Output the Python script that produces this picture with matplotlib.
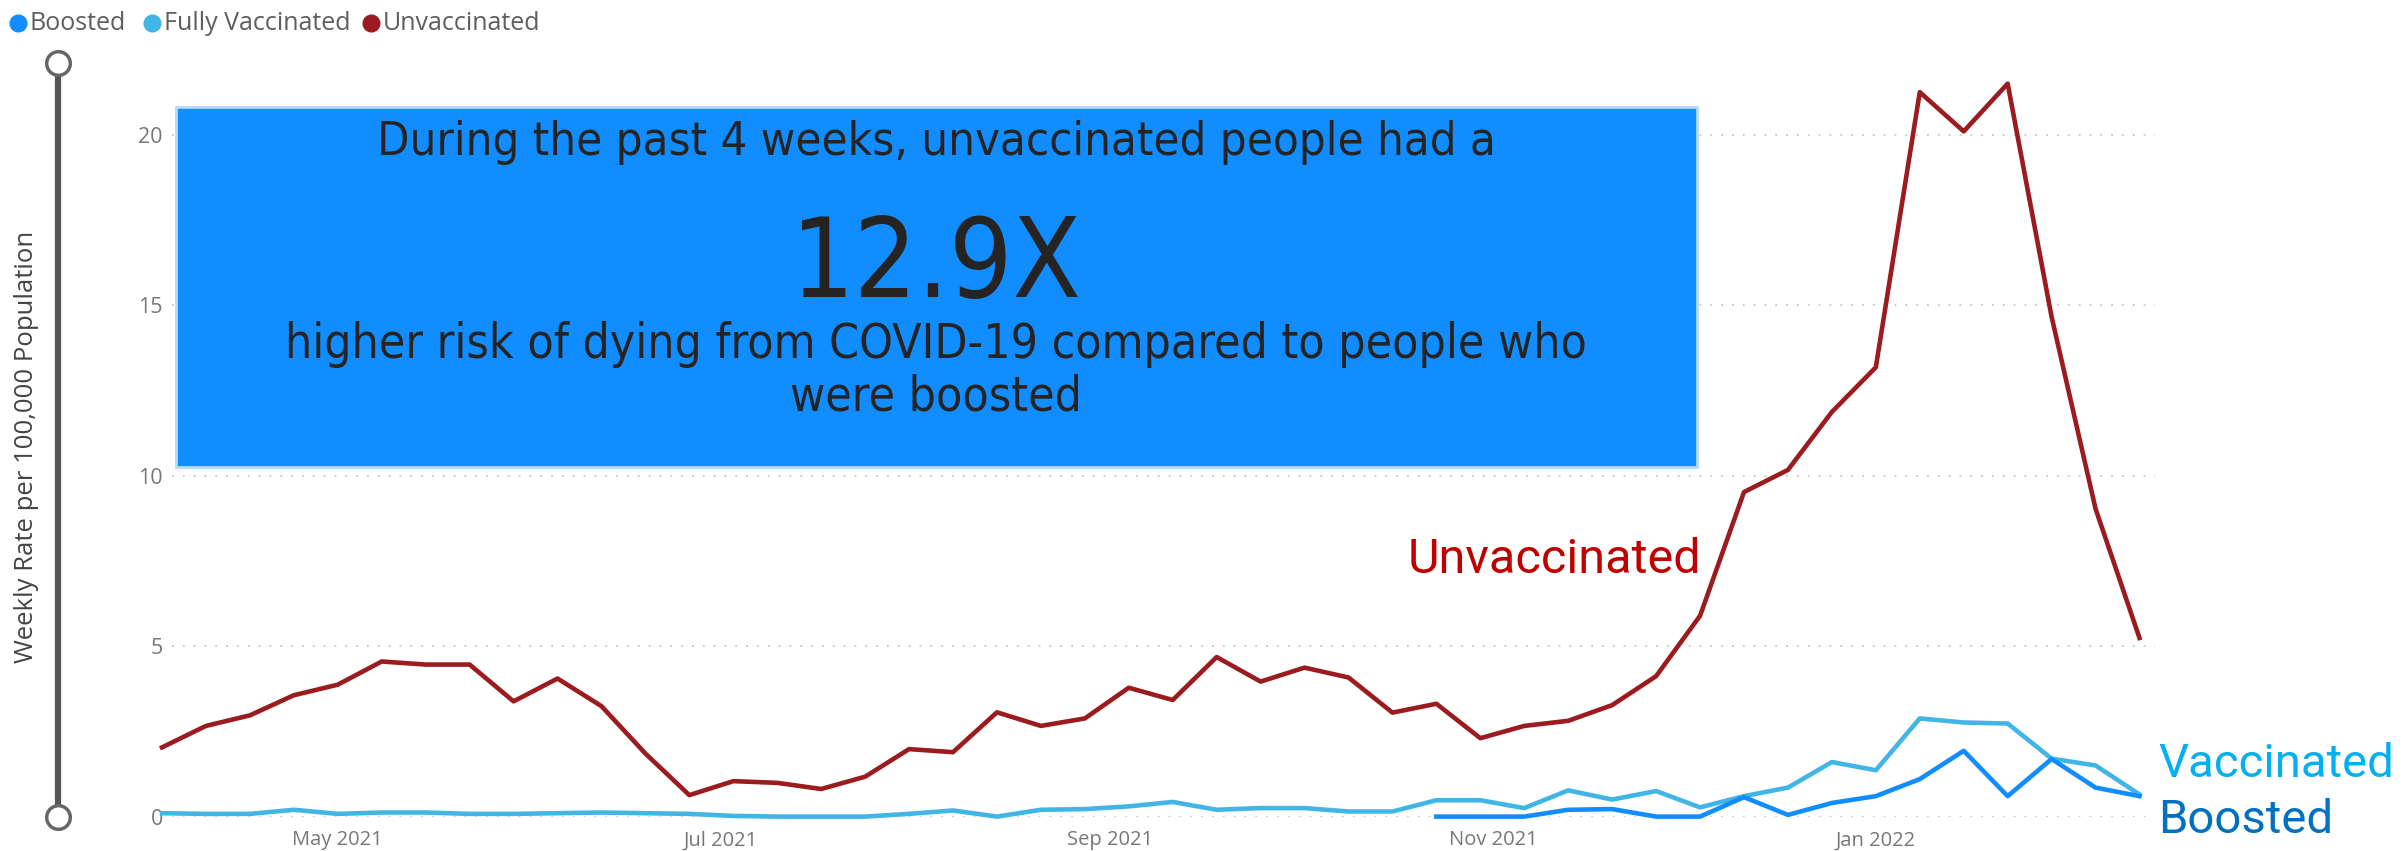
import pandas as pd
import matplotlib
matplotlib.use('Agg')
import matplotlib.pyplot as plt
import matplotlib.dates as mdates
from matplotlib.patches import Rectangle
from matplotlib.lines import Line2D

W, H = 2402, 851

# weekly rates per 100,000 population
weeks = pd.date_range('2021-04-03', periods=46, freq='7D')
unvaccinated = [2.03, 2.66, 2.97, 3.56, 3.87, 4.55, 4.46, 4.46, 3.38, 4.05,
                3.24, 1.85, 0.63, 1.04, 0.99, 0.81, 1.17, 1.98, 1.89, 3.06,
                2.66, 2.88, 3.78, 3.42, 4.68, 3.96, 4.37, 4.08, 3.05, 3.31,
                2.30, 2.66, 2.81, 3.27, 4.12, 5.89, 9.52, 10.17, 11.87, 13.18,
                21.25, 20.1, 21.5, 14.66, 9.03, 5.24]
fully_vaccinated = [0.10, 0.08, 0.08, 0.20, 0.08, 0.12, 0.12, 0.08, 0.08, 0.10,
                    0.12, 0.10, 0.08, 0.02, 0.0, 0.0, 0.0, 0.08, 0.18, 0.0,
                    0.20, 0.22, 0.30, 0.43, 0.20, 0.25, 0.25, 0.15, 0.15, 0.48,
                    0.48, 0.25, 0.77, 0.50, 0.75, 0.27, 0.60, 0.85, 1.60, 1.36,
                    2.88, 2.76, 2.73, 1.70, 1.50, 0.65]
boost_start = 29
boosted = [0.0, 0.0, 0.0, 0.20, 0.22, 0.0, 0.0, 0.57, 0.05, 0.40,
           0.60, 1.10, 1.93, 0.60, 1.69, 0.85, 0.60]
month_ticks = pd.to_datetime(['2021-05-01', '2021-07-01', '2021-09-01', '2021-11-01', '2022-01-01'])

RED = '#9B1B1F'
LIGHT = '#41B6E6'
BLUE = '#118DFF'
UI_FONT = ['Open Sans', 'DejaVu Sans']


def fx(x):
    return x / W


def fy(y):
    return 1 - y / H


fig = plt.figure(figsize=(W / 100, H / 100), dpi=100)
fig.patch.set_facecolor('white')

ax = fig.add_axes([fx(160), fy(816.6), fx(2155) - fx(160), fy(66.6) - fy(816.6)])
ax.set_facecolor('none')

for v in [0, 5, 10, 15, 20]:
    ax.axhline(v, xmin=0.006, color='#c8c8c8', lw=1.3, ls=(0, (1, 5)), zorder=0)

ax.plot(weeks, unvaccinated, color=RED, lw=3.3, clip_on=False)
ax.plot(weeks, fully_vaccinated, color=LIGHT, lw=3.3, clip_on=False)
ax.plot(weeks[boost_start:], boosted, color=BLUE, lw=3.3, clip_on=False)

ax.set_ylim(0, 22)
ax.set_xlim(weeks[0] - pd.Timedelta(days=0.32), weeks[-1] + pd.Timedelta(days=2.47))
ax.set_yticks([0, 5, 10, 15, 20])
ax.set_xticks(month_ticks)
ax.xaxis.set_major_formatter(mdates.DateFormatter('%b %Y'))
ax.tick_params(axis='x', length=0, labelsize=14.5, labelcolor='#777777', pad=10)
ax.tick_params(axis='y', length=0, labelsize=15.5, labelcolor='#777777', pad=-2)
for lab in ax.get_xticklabels() + ax.get_yticklabels():
    lab.set_family(UI_FONT)
for s in ax.spines.values():
    s.set_visible(False)

fig.text(fx(27), fy(447), 'Weekly Rate per 100,000 Population', rotation=90,
         ha='center', va='center', fontsize=18.5, color='#444444', family=UI_FONT)

# slider on the left
fig.add_artist(Line2D([fx(58), fx(58)], [fy(63), fy(817)], color='#555555', lw=4.5,
                      transform=fig.transFigure))
for yy in [63, 817]:
    fig.add_artist(Line2D([fx(58)], [fy(yy)], marker='o', markersize=17, markerfacecolor='white',
                          markeredgecolor='#666666', markeredgewidth=2.5, transform=fig.transFigure))

# legend
legend_items = [('Boosted', BLUE, 18), ('Fully Vaccinated', LIGHT, 152), ('Unvaccinated', RED, 371)]
for name, col, x0 in legend_items:
    fig.add_artist(Line2D([fx(x0)], [fy(23)], marker='o', markersize=12, color=col, lw=0,
                          transform=fig.transFigure))
    fig.text(fx(x0 + 12), fy(23), name, ha='left', va='center', fontsize=18,
             color='#605E5C', family=UI_FONT)

# callout box
fig.add_artist(Rectangle((fx(176), fy(467)), fx(1697) - fx(176), fy(107) - fy(467),
                         facecolor=BLUE, edgecolor='#b3d9ff', lw=2, transform=fig.transFigure))
box_kw = dict(ha='center', va='baseline', color='#252423', family=['DejaVu Sans'],
              fontstretch='condensed')
cx = fx(936)
fig.text(cx, fy(155), 'During the past 4 weeks, unvaccinated people had a', fontsize=33.8, **box_kw)
fig.text(cx, fy(297), '12.9X', fontsize=80, **box_kw)
fig.text(cx, fy(358), 'higher risk of dying from COVID-19 compared to people who', fontsize=34.5, **box_kw)
fig.text(cx, fy(411), 'were boosted', fontsize=34.5, **box_kw)

# direct labels
lab_font = ['Roboto', 'DejaVu Sans']
fig.text(fx(1701), fy(573), 'Unvaccinated', ha='right', va='baseline', fontsize=35,
         color='#C00000', family=lab_font)
fig.text(fx(2158), fy(777), 'Vaccinated', ha='left', va='baseline', fontsize=34,
         color='#00B0F0', family=lab_font)
fig.text(fx(2158), fy(833), 'Boosted', ha='left', va='baseline', fontsize=34,
         color='#0070C0', family=lab_font)

fig.savefig('out.png', dpi=100, facecolor='white')
